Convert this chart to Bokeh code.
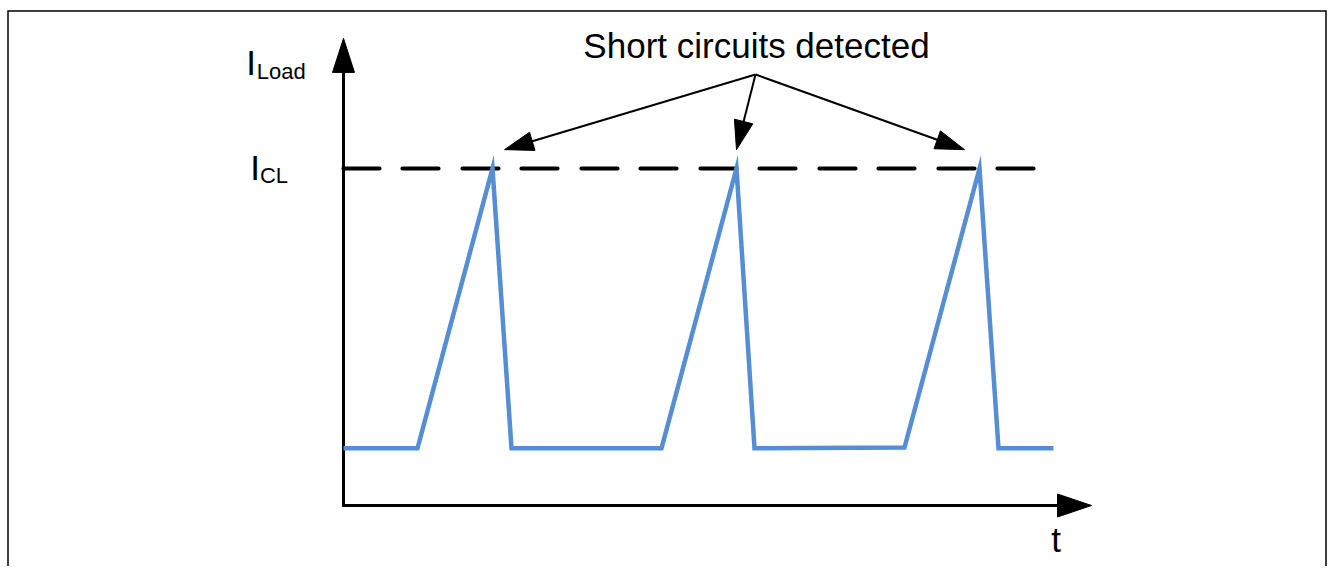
import numpy as np
from bokeh.plotting import figure
from bokeh.models import Range1d
from bokeh.core.properties import value
from bokeh.embed import file_html
from bokeh.resources import INLINE

# ---------------- data (time in arbitrary units, current normalised to I_CL = 1) ----------------
t_wave = [0.0, 7.4, 14.9, 16.8, 31.8, 39.3, 41.1, 56.1, 63.6, 65.5, 71.0]
i_wave = [0.17, 0.17, 1.0, 0.17, 0.17, 1.0, 0.17, 0.172, 1.0, 0.17, 0.17]
i_cl = 1.0
t_cl_end = 69.2
t_axis_end = 74.8
i_axis_end = 1.386
callout_origin = (41.2, 1.279)
callout_tips_t = [16.1, 39.3, 62.1]
callout_tips_i = [1.056, 1.056, 1.056]
title_text = "Short circuits detected"

# ---------------- layout: mapping between data and picture pixels ----------------
X0_PX, PX_PER_T = 343.0, 10.0
Y0_PX, PX_PER_I = 505.0, 337.0
LEFT, TOP, W, H = 0, 0, 1333, 566
TEXT_DY = -12.5  # baseline correction for the text glyph


def t_of(px):
    return (px - X0_PX) / PX_PER_T


def i_of(py):
    return (Y0_PX - py) / PX_PER_I


def px_of(t):
    return X0_PX + t * PX_PER_T


def py_of(i):
    return Y0_PX - i * PX_PER_I


def head(tail, tip, length, width):
    """Triangle arrow head computed in pixel space, returned in data units, plus base point."""
    tx, ty = px_of(tail[0]), py_of(tail[1])
    hx, hy = px_of(tip[0]), py_of(tip[1])
    d = np.array([hx - tx, hy - ty])
    d = d / np.hypot(*d)
    n = np.array([-d[1], d[0]])
    base = np.array([hx, hy]) - d * length
    c1 = base + n * width / 2
    c2 = base - n * width / 2
    xs = [t_of(hx), t_of(c1[0]), t_of(c2[0])]
    ys = [i_of(hy), i_of(c1[1]), i_of(c2[1])]
    return xs, ys, (t_of(base[0]), i_of(base[1]))


p = figure(width=W, height=H, output_backend="svg", toolbar_location=None,
           x_range=Range1d(t_of(LEFT), t_of(LEFT + W)),
           y_range=Range1d(i_of(TOP + H), i_of(TOP)),
           x_axis_location=None, y_axis_location=None, min_border=0)
p.grid.visible = False
p.outline_line_color = None
p.background_fill_color = "white"
p.border_fill_color = "white"

# outer frame (left, top, right; bottom lies outside the picture)
p.line([t_of(7.5), t_of(7.5), t_of(1325.5), t_of(1325.5)],
       [i_of(H + 20), i_of(10.5), i_of(10.5), i_of(H + 20)],
       line_color="black", line_width=1.5, line_join="miter")

# axes with arrow heads
yh_x, yh_y, y_base = head((0, 0), (0, i_axis_end), 34, 22)
xh_x, xh_y, x_base = head((0, 0), (t_axis_end, 0), 34, 23)
p.line([0, 0, x_base[0]], [y_base[1], 0, 0], line_color="black", line_width=3,
       line_join="miter")
p.patches([yh_x, xh_x], [yh_y, xh_y], fill_color="black", line_color="black", line_width=1)

# current-limit dashed line
p.line([0, t_cl_end], [i_cl, i_cl], line_color="black", line_width=4.2,
       line_dash="36 23 36 24", line_cap="round")

# load current waveform
p.line(t_wave, i_wave, line_color="#558ED5", line_width=4.5, line_join="miter")

# callout arrows
hx_all, hy_all = [], []
for tt, ii in zip(callout_tips_t, callout_tips_i):
    hx, hy, base = head(callout_origin, (tt, ii), 29, 19)
    hx_all.append(hx)
    hy_all.append(hy)
    p.line([callout_origin[0], base[0]], [callout_origin[1], base[1]],
           line_color="black", line_width=2)
p.patches(hx_all, hy_all, fill_color="black", line_color="black", line_width=1)

# texts
font = value("Liberation Sans")
p.text(x=[t_of(756)], y=[i_of(57 + TEXT_DY)], text=[title_text], text_font=font,
       text_font_size="35px", text_align="center", text_baseline="alphabetic",
       text_color="black")
p.text(x=[t_of(245.7), t_of(249.7)], y=[i_of(74.3 + TEXT_DY), i_of(179 + TEXT_DY)],
       text=["I", "I"], text_font=font, text_font_size="35px", text_align="left",
       text_baseline="alphabetic", text_color="black")
p.text(x=[t_of(256.3), t_of(259.4)], y=[i_of(79.3 + TEXT_DY * 0.7), i_of(184 + TEXT_DY * 0.7)],
       text=["Load", "CL"], text_font=font, text_font_size="22px", text_align="left",
       text_baseline="alphabetic", text_color="black")
p.text(x=[t_of(1055.5)], y=[i_of(551.7 + TEXT_DY)], text=["t"], text_font=font,
       text_font_size="35px", text_align="center", text_baseline="alphabetic",
       text_color="black")

open("out.html", "w").write(file_html(p, INLINE))
